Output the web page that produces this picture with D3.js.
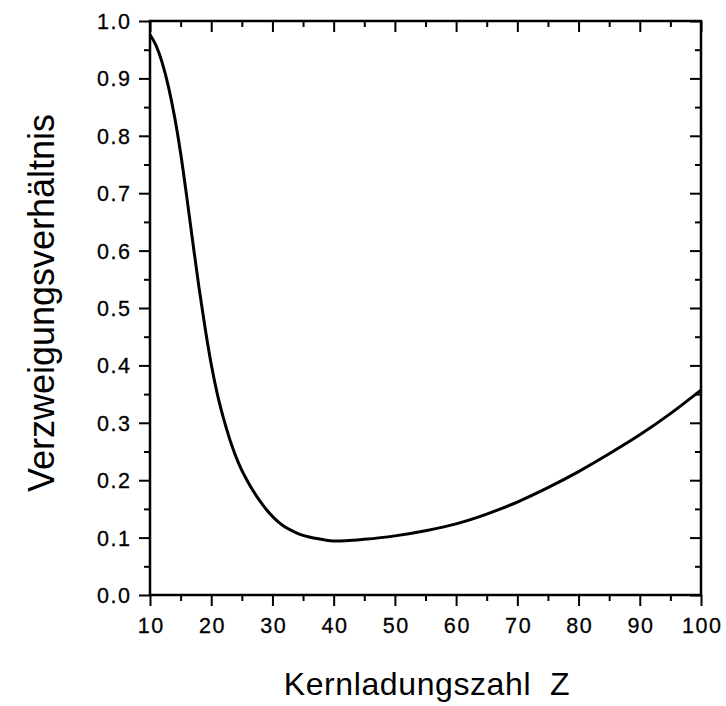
<!DOCTYPE html>
<html>
<head>
<meta charset="utf-8">
<script src="https://cdn.jsdelivr.net/npm/d3@7"></script>
<style>
  html, body { margin: 0; padding: 0; background: #fff; }
  svg { display: block; }
  .tick text { font-family: "Liberation Sans", Arial, Helvetica, sans-serif; }
</style>
</head>
<body>
<svg id="chart" width="726" height="706"></svg>
<script>
// Branching ratio as a function of nuclear charge Z
const zValues = [10, 11, 12, 13, 14, 15, 16, 17, 18, 19, 20, 21, 22, 23, 24, 25, 26, 27, 28, 29, 30, 31, 32, 33, 34, 35, 36, 38, 40, 42, 45, 50, 55, 60, 65, 70, 75, 80, 85, 90, 95, 100];
const ratioValues = [0.976, 0.957, 0.927, 0.886, 0.834, 0.770, 0.694, 0.614, 0.536, 0.465, 0.402, 0.350, 0.308, 0.272, 0.242, 0.217, 0.197, 0.179, 0.163, 0.149, 0.137, 0.127, 0.119, 0.113, 0.108, 0.104, 0.101, 0.097, 0.094, 0.0945, 0.097, 0.103, 0.112, 0.124, 0.141, 0.162, 0.187, 0.215, 0.246, 0.279, 0.316, 0.357];

const xMajorTicks = [10, 20, 30, 40, 50, 60, 70, 80, 90, 100];
const xMinorTicks = [15, 25, 35, 45, 55, 65, 75, 85, 95];
const yMajorTicks = [0, 0.1, 0.2, 0.3, 0.4, 0.5, 0.6, 0.7, 0.8, 0.9, 1.0];
const yMinorTicks = [0.05, 0.15, 0.25, 0.35, 0.45, 0.55, 0.65, 0.75, 0.85, 0.95];

const xTitle = "Kernladungszahl\u00a0\u00a0Z";
const yTitle = "Verzweigungsverhältnis";

const svg = d3.select("#chart");
const plot = { left: 150, right: 701, top: 21, bottom: 595 };
const W = plot.right - plot.left, H = plot.bottom - plot.top;

const x = d3.scaleLinear().domain([10, 100]).range([0, W]);
const y = d3.scaleLinear().domain([0, 1]).range([H, 0]);

const g = svg.append("g").attr("transform", `translate(${plot.left},${plot.top})`);

const MAJOR = 11, MINOR = 6;
const fmt = d3.format(".1f");

function styleAxis(sel) {
  sel.select(".domain").remove();
  sel.selectAll(".tick line").attr("stroke", "#000").attr("stroke-width", 2);
}

function styleLabels(sel) {
  sel.attr("font-size", 21.5)
    .attr("letter-spacing", "1.6px")
    .attr("fill", "#000")
    .attr("stroke", "#000")
    .attr("stroke-width", 0.3)
    .attr("dy", null);
}

// Bottom axis: outward ticks with labels
const xAxisMajor = g.append("g").attr("transform", `translate(0,${H})`)
  .call(d3.axisBottom(x).tickValues(xMajorTicks).tickSize(MAJOR).tickSizeOuter(0).tickFormat(d3.format("d")));
styleAxis(xAxisMajor);
xAxisMajor.selectAll(".tick text").call(styleLabels).attr("y", 38).attr("dx", 0.8);
g.append("g").attr("transform", `translate(0,${H})`)
  .call(d3.axisBottom(x).tickValues(xMinorTicks).tickSize(MINOR).tickSizeOuter(0).tickFormat(""))
  .call(styleAxis);

// Top axis: inward ticks
g.append("g")
  .call(d3.axisBottom(x).tickValues(xMajorTicks).tickSize(MAJOR).tickSizeOuter(0).tickFormat(""))
  .call(styleAxis);
g.append("g")
  .call(d3.axisBottom(x).tickValues(xMinorTicks).tickSize(MINOR).tickSizeOuter(0).tickFormat(""))
  .call(styleAxis);

// Left axis: outward ticks with labels
const yAxisMajor = g.append("g")
  .call(d3.axisLeft(y).tickValues(yMajorTicks).tickSize(MAJOR).tickSizeOuter(0).tickFormat(fmt));
styleAxis(yAxisMajor);
yAxisMajor.selectAll(".tick text").call(styleLabels).attr("y", 7.5).attr("x", -18.4);
g.append("g")
  .call(d3.axisLeft(y).tickValues(yMinorTicks).tickSize(MINOR).tickSizeOuter(0).tickFormat(""))
  .call(styleAxis);

// Right axis: inward ticks
g.append("g").attr("transform", `translate(${W},0)`)
  .call(d3.axisLeft(y).tickValues(yMajorTicks).tickSize(MAJOR).tickSizeOuter(0).tickFormat(""))
  .call(styleAxis);
g.append("g").attr("transform", `translate(${W},0)`)
  .call(d3.axisLeft(y).tickValues(yMinorTicks).tickSize(MINOR).tickSizeOuter(0).tickFormat(""))
  .call(styleAxis);

// Frame
g.append("rect")
  .attr("x", 0).attr("y", 0).attr("width", W).attr("height", H)
  .attr("fill", "none").attr("stroke", "#000").attr("stroke-width", 2.5);

// Curve
const data = zValues.map((z, i) => ({ z, v: ratioValues[i] }));
g.append("path")
  .datum(data)
  .attr("fill", "none")
  .attr("stroke", "#000")
  .attr("stroke-width", 3)
  .attr("stroke-linejoin", "round")
  .attr("d", d3.line().x(d => x(d.z)).y(d => y(d.v)).curve(d3.curveMonotoneX));

// Axis titles
svg.append("text")
  .attr("x", 427).attr("y", 695)
  .attr("text-anchor", "middle")
  .attr("font-family", "Liberation Sans, Arial, Helvetica, sans-serif")
  .attr("font-size", 32)
  .attr("letter-spacing", "0.6px")
  .attr("fill", "#000")
  .text(xTitle);

svg.append("text")
  .attr("transform", "translate(54,303) rotate(-90)")
  .attr("text-anchor", "middle")
  .attr("font-family", "Liberation Sans, Arial, Helvetica, sans-serif")
  .attr("font-size", 36)
  .attr("fill", "#000")
  .text(yTitle);
</script>
</body>
</html>
